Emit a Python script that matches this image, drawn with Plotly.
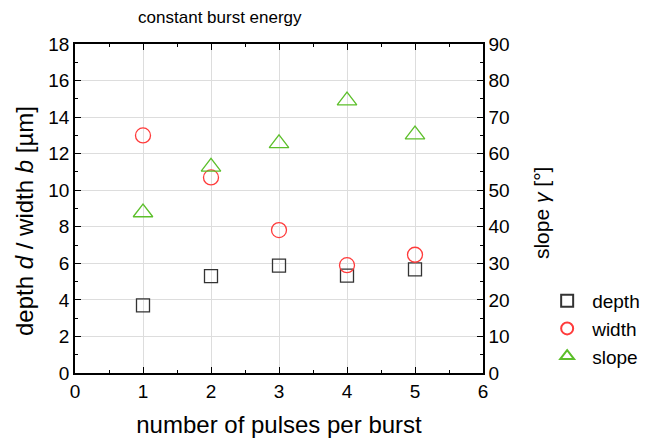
import plotly.graph_objects as go

pulses = [1, 2, 3, 4, 5]
depth = [3.7, 5.3, 5.87, 5.33, 5.67]
width = [13.0, 10.7, 7.82, 5.9, 6.47]
slope = [43.9, 56.4, 62.8, 74.5, 65.2]

FONT = "Liberation Sans, Arial, sans-serif"

fig = go.Figure()
fig.add_trace(go.Scatter(x=pulses, y=depth, mode="markers", name="depth",
                         marker=dict(symbol="square-open", size=13, color="#333333", line=dict(width=1.3))))
fig.add_trace(go.Scatter(x=pulses, y=width, mode="markers", name="width",
                         marker=dict(symbol="circle-open", size=15, color="#ff3b3b", line=dict(width=1.3))))
fig.add_trace(go.Scatter(x=pulses, y=slope, mode="markers", name="slope", yaxis="y2",
                         marker=dict(symbol="triangle-up-open", size=17, color="#5cbf2a", line=dict(width=1.3))))

axis_common = dict(showline=True, linecolor="black", linewidth=1.5, ticks="inside",
                   ticklen=6, tickwidth=1.2, tickcolor="black",
                   tickfont=dict(size=19, color="black", family=FONT),
                   gridcolor="#dddddd", gridwidth=1, zeroline=False)

fig.update_layout(
    width=657, height=441,
    margin=dict(l=67, r=182, t=36, b=76),
    paper_bgcolor="white", plot_bgcolor="white",
    font=dict(family=FONT, color="black"),
    title=dict(text="constant burst energy", x=0.355, xref="paper", xanchor="center",
               y=0.98, yref="container", yanchor="middle",
               font=dict(size=17, color="black", family=FONT)),
    xaxis=dict(range=[0, 6], dtick=1, mirror="ticks", showgrid=True,
               minor=dict(dtick=0.5, ticks="inside", ticklen=3, tickcolor="black", showgrid=False),
               title=dict(text="number of pulses per burst", font=dict(size=24, family=FONT), standoff=16),
               **axis_common),
    yaxis=dict(range=[0, 18], dtick=2, mirror="ticks", showgrid=True,
               minor=dict(dtick=1, ticks="inside", ticklen=3, tickcolor="black", showgrid=False),
               **axis_common),
    yaxis2=dict(range=[0, 90], dtick=10, overlaying="y", side="right", showgrid=False,
                minor=dict(dtick=5, ticks="inside", ticklen=3, tickcolor="black", showgrid=False),
                **axis_common),
    annotations=[
        dict(text="depth <i>d</i> / width <i>b</i> [µm]", xref="paper", yref="paper",
             x=-0.125, y=0.462, xanchor="center", yanchor="middle", textangle=-90,
             showarrow=False, font=dict(size=24, family=FONT, color="black")),
        dict(text="slope <i>γ</i> [°]", xref="paper", yref="paper",
             x=1.142, y=0.486, xanchor="center", yanchor="middle", textangle=-90,
             showarrow=False, font=dict(size=21, family=FONT, color="black")),
    ],
    legend=dict(x=1.145, y=0.277, xanchor="left", yanchor="top", bgcolor="rgba(0,0,0,0)",
                font=dict(size=19, family=FONT, color="black"), itemsizing="constant",
                tracegroupgap=0, itemwidth=40),
    showlegend=True,
)

fig.write_html("out.html")
